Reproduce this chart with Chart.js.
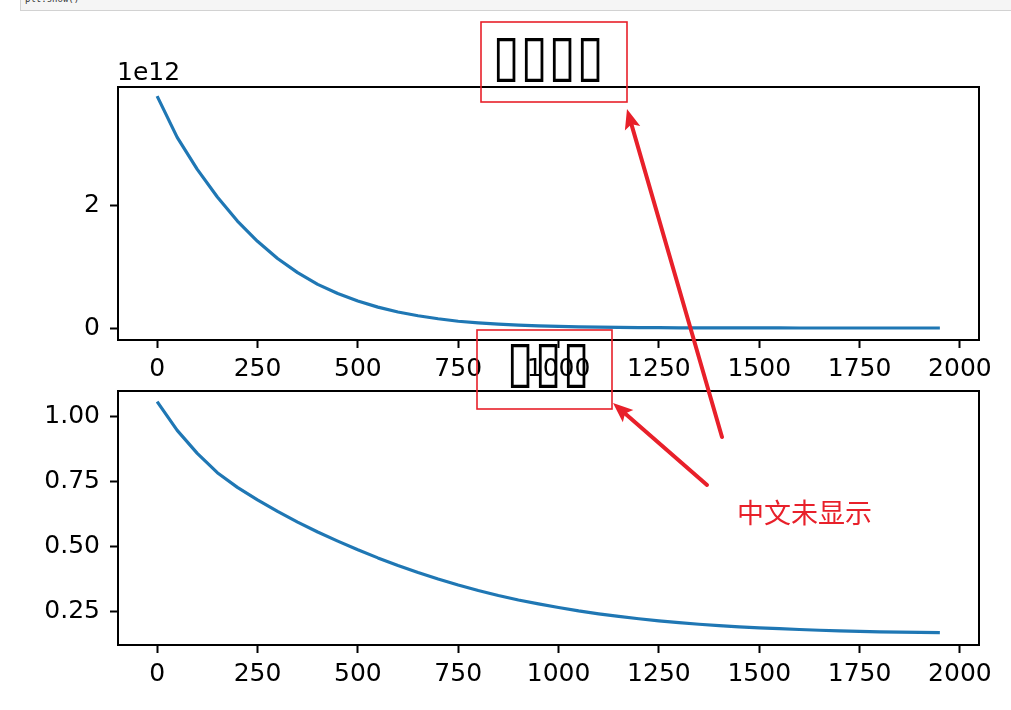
<!DOCTYPE html>
<html>
<head>
<meta charset="utf-8">
<script src="https://cdn.jsdelivr.net/npm/chart.js@4.4.1/dist/chart.umd.min.js"></script>
<style>
  html, body { margin:0; padding:0; background:#fff; width:1011px; height:710px; overflow:hidden; }
  #wrap { position:relative; width:1011px; height:710px; }
  canvas { position:absolute; left:0; }
  #c1 { top:0; }
  #c2 { top:335px; }
  .hdr { position:absolute; left:20px; top:-2px; width:1000px; height:13px; background:#f5f5f5; border:1px solid #d2d2d2; box-sizing:border-box; overflow:hidden; }
  .hdr span { position:absolute; left:4px; top:-5px; font-family:'DejaVu Sans Mono', monospace; font-size:9px; color:#333; }
  .tofu { position:absolute; left:118px; width:861px; text-align:center; font-family:'DejaVu Sans'; color:#000; line-height:normal; white-space:nowrap; transform-origin:50% 16px; transform:scaleY(1.15); }
  .offset { position:absolute; left:117px; top:57px; font-family:'DejaVu Sans'; font-size:25px; color:#000; line-height:normal; }
  .note { position:absolute; left:737px; top:492px; font-family:'Noto Sans CJK SC'; font-size:27px; color:#e8202a; line-height:normal; white-space:nowrap; }
  svg { position:absolute; left:0; top:0; }
</style>
</head>
<body>
<div id="wrap">
  <div class="hdr"><span>plt.show()</span></div>
  <canvas id="c1" width="1011" height="400"></canvas>
  <canvas id="c2" width="1011" height="375"></canvas>
  <div class="offset">1e12</div>
  <div class="tofu" id="t1" style="top:24px;font-size:50px;letter-spacing:0.5px;">▯▯▯▯</div>
  <div class="tofu" id="t2" style="top:330px;font-size:50px;letter-spacing:0.5px;">▯▯▯</div>
  <svg id="ov" width="1011" height="710"></svg>
  <div class="note">中文未显示</div>
</div>
<script>
// ---- data ----
const xValues = [0,50,100,150,200,250,300,350,400,450,500,550,600,650,700,750,800,850,900,950,
                 1000,1050,1100,1150,1200,1250,1300,1350,1400,1450,1500,1550,1600,1650,1700,1750,1800,1850,1900,1950];
// top series, in units of 1e12
const topValues = [3.77,3.10,2.58,2.13,1.74,1.41,1.13,0.90,0.71,0.56,
                   0.44,0.34,0.26,0.20,0.15,0.11,0.085,0.063,0.046,0.034,
                   0.025,0.018,0.013,0.009,0.007,0.005,0.003,0.002,0.0015,0.001,
                   0.0008,0.0006,0.0004,0.0003,0.0002,0.0002,0.0001,0.0001,0.0001,0.0001];
const bottomValues = [1.055,0.945,0.857,0.783,0.727,0.679,0.635,0.594,0.556,0.521,
                      0.488,0.457,0.428,0.401,0.376,0.353,0.332,0.313,0.296,0.281,
                      0.267,0.254,0.243,0.233,0.224,0.216,0.209,0.203,0.198,0.193,
                      0.189,0.186,0.183,0.180,0.178,0.176,0.174,0.173,0.172,0.171];
const xTicks = [0,250,500,750,1000,1250,1500,1750,2000];
const topYTicks = [0,2];
const bottomYTicks = [0.25,0.50,0.75,1.00];

const LINE = '#1f77b4';
const FONT = {family:'DejaVu Sans', size:25};

const framePlugin = {
  id:'frame',
  afterDraw(chart){
    const a = chart.chartArea, c = chart.ctx;
    c.save(); c.strokeStyle='#000'; c.lineWidth=2;
    c.strokeRect(a.left, a.top, a.right-a.left, a.bottom-a.top);
    c.restore();
  }
};

function makeChart(id, ys, yMin, yMax, yTicks, yFmt, padTop, xAxisH){
  return new Chart(document.getElementById(id), {
    type:'line',
    data:{ datasets:[{ data: xValues.map((x,i)=>({x:x, y:ys[i]})), borderColor:LINE, borderWidth:3.2,
                       pointRadius:0, tension:0, fill:false, borderJoinStyle:'round' }] },
    options:{
      responsive:false, animation:false, devicePixelRatio:1,
      layout:{ padding:{ top:padTop, right:32, left:0, bottom:0 } },
      plugins:{ legend:{display:false}, tooltip:{enabled:false}, title:{display:false} },
      scales:{
        x:{ type:'linear', min:-97.5, max:2047.5,
            afterBuildTicks: ax => { ax.ticks = xTicks.map(v=>({value:v})); },
            afterFit: ax => { ax.height = xAxisH; },
            grid:{ drawOnChartArea:false, drawTicks:true, tickLength:8, tickWidth:2, tickColor:'#000' },
            border:{ display:false },
            ticks:{ color:'#000', font:FONT, padding:6, maxRotation:0, autoSkip:false, callback: v => String(v) } },
        y:{ type:'linear', min:yMin, max:yMax,
            afterBuildTicks: ax => { ax.ticks = yTicks.map(v=>({value:v})); },
            afterFit: ax => { ax.width = 118; },
            grid:{ drawOnChartArea:false, drawTicks:true, tickLength:8, tickWidth:2, tickColor:'#000' },
            border:{ display:false },
            ticks:{ color:'#000', font:FONT, padding:10, autoSkip:false, callback: yFmt } }
      }
    },
    plugins:[framePlugin]
  });
}

makeChart('c1', topValues, -0.195, 3.919, topYTicks, v => String(v), 87, 60);
makeChart('c2', bottomValues, 0.1236, 1.0957, bottomYTicks, v => v.toFixed(2), 56, 65);

// ---- red annotations overlay ----
const NS = 'http://www.w3.org/2000/svg';
const ov = document.getElementById('ov');
const RED = '#e8202a';
function rect(x1,y1,x2,y2){
  const r = document.createElementNS(NS,'rect');
  r.setAttribute('x',x1); r.setAttribute('y',y1); r.setAttribute('width',x2-x1); r.setAttribute('height',y2-y1);
  r.setAttribute('fill','none'); r.setAttribute('stroke',RED); r.setAttribute('stroke-width','1.6');
  ov.appendChild(r);
}
function arrow(tx,ty,hx,hy){
  const dx=hx-tx, dy=hy-ty, L=Math.hypot(dx,dy), ux=dx/L, uy=dy/L, nx=-uy, ny=ux;
  const hl=20, hw=8;
  const bx=hx-ux*hl, by=hy-uy*hl;
  const ln = document.createElementNS(NS,'line');
  ln.setAttribute('x1',tx); ln.setAttribute('y1',ty); ln.setAttribute('x2',bx+ux*4); ln.setAttribute('y2',by+uy*4);
  ln.setAttribute('stroke',RED); ln.setAttribute('stroke-width','4'); ln.setAttribute('stroke-linecap','round');
  ov.appendChild(ln);
  const p = document.createElementNS(NS,'polygon');
  const nbx=hx-ux*hl*0.8, nby=hy-uy*hl*0.8;
  p.setAttribute('points', `${hx},${hy} ${bx+nx*hw},${by+ny*hw} ${nbx},${nby} ${bx-nx*hw},${by-ny*hw}`);
  p.setAttribute('fill',RED);
  ov.appendChild(p);
}
rect(481,22,627,102);
rect(477,330,612,409);
arrow(722,437,627,109);
arrow(707,485,613,403);
</script>
</body>
</html>
